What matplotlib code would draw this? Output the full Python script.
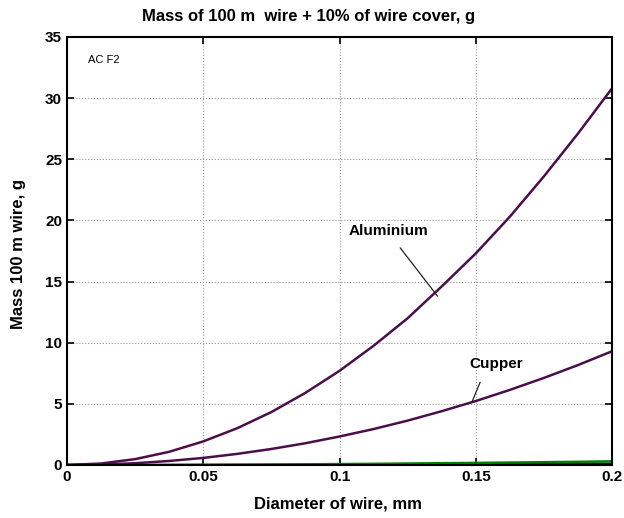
import matplotlib
matplotlib.use("Agg")
import matplotlib.pyplot as plt

plt.rcParams['font.family'] = ['Liberation Sans', 'DejaVu Sans']

diameter = [0.0, 0.0125, 0.025, 0.0375, 0.05, 0.0625, 0.075, 0.0875, 0.1,
            0.1125, 0.125, 0.1375, 0.15, 0.1625, 0.175, 0.1875, 0.2]
aluminium = [0.0, 0.12, 0.48, 1.08, 1.93, 3.01, 4.33, 5.9, 7.7,
             9.75, 12.0, 14.6, 17.3, 20.3, 23.6, 27.1, 30.8]
cupper = [0.0, 0.036, 0.145, 0.33, 0.58, 0.91, 1.31, 1.78, 2.33,
          2.94, 3.63, 4.4, 5.23, 6.14, 7.12, 8.17, 9.3]
green_series = [0.0, 0.001, 0.005, 0.011, 0.02, 0.03, 0.04, 0.057, 0.075,
                0.095, 0.12, 0.145, 0.17, 0.2, 0.23, 0.26, 0.3]
blue_series = [0.0, 0.0005, 0.002, 0.004, 0.008, 0.012, 0.018, 0.024, 0.03,
               0.04, 0.05, 0.06, 0.07, 0.085, 0.1, 0.11, 0.12]

xticks = [0, 0.05, 0.1, 0.15, 0.2]
xticklabels = ['0', '0.05', '0.1', '0.15', '0.2']
yticks = [0, 5, 10, 15, 20, 25, 30, 35]

W, H = 624, 518
fig = plt.figure(figsize=(W / 100, H / 100), dpi=100)
ax = fig.add_axes([67 / W, 1 - 465 / H, 545 / W, 428 / H])

ax.plot(diameter, blue_series, color='#000080', lw=1.5)
ax.plot(diameter, green_series, color='#008000', lw=1.8)
ax.plot(diameter, aluminium, color='#4a0f4a', lw=1.8)
ax.plot(diameter, cupper, color='#4a0f4a', lw=1.8)

ax.set_xlim(0, 0.2)
ax.set_ylim(0, 35)
ax.set_xticks(xticks)
ax.set_xticklabels(xticklabels)
ax.set_yticks(yticks)
ax.grid(True, linestyle=':', color='#999999', lw=0.8)
ax.tick_params(direction='in', top=True, right=True, length=5, width=1.2, labelsize=11)
for lbl in ax.get_xticklabels() + ax.get_yticklabels():
    lbl.set_fontweight('bold')
for s in ax.spines.values():
    s.set_linewidth(1.5)

fig.text(309 / W, 1 - 17 / H, 'Mass of 100 m  wire + 10% of wire cover, g',
         fontsize=12, fontweight='bold', ha='center', va='center')
fig.text(338 / W, 1 - 504 / H, 'Diameter of wire, mm',
         fontsize=12, fontweight='bold', ha='center', va='center')
fig.text(19 / W, 1 - 254 / H, 'Mass 100 m wire, g', rotation=90,
         fontsize=12, fontweight='bold', ha='center', va='center')

ax.annotate('Aluminium', xy=(0.1360, 13.8), xytext=(0.1035, 19.1),
            fontsize=11, fontweight='bold', va='center', ha='left',
            arrowprops=dict(arrowstyle='-', color='#222222', lw=0.9, shrinkA=6, shrinkB=0,
                            relpos=(0.55, 0.0)))
ax.annotate('Cupper', xy=(0.1486, 5.15), xytext=(0.1475, 8.3),
            fontsize=11, fontweight='bold', va='center', ha='left',
            arrowprops=dict(arrowstyle='-', color='#222222', lw=0.9, shrinkA=7, shrinkB=0,
                            relpos=(0.3, 0.0)))
ax.text(0.0078, 33.1, 'AC F2', fontsize=8, va='center', ha='left')

fig.savefig('out.png', dpi=100)
